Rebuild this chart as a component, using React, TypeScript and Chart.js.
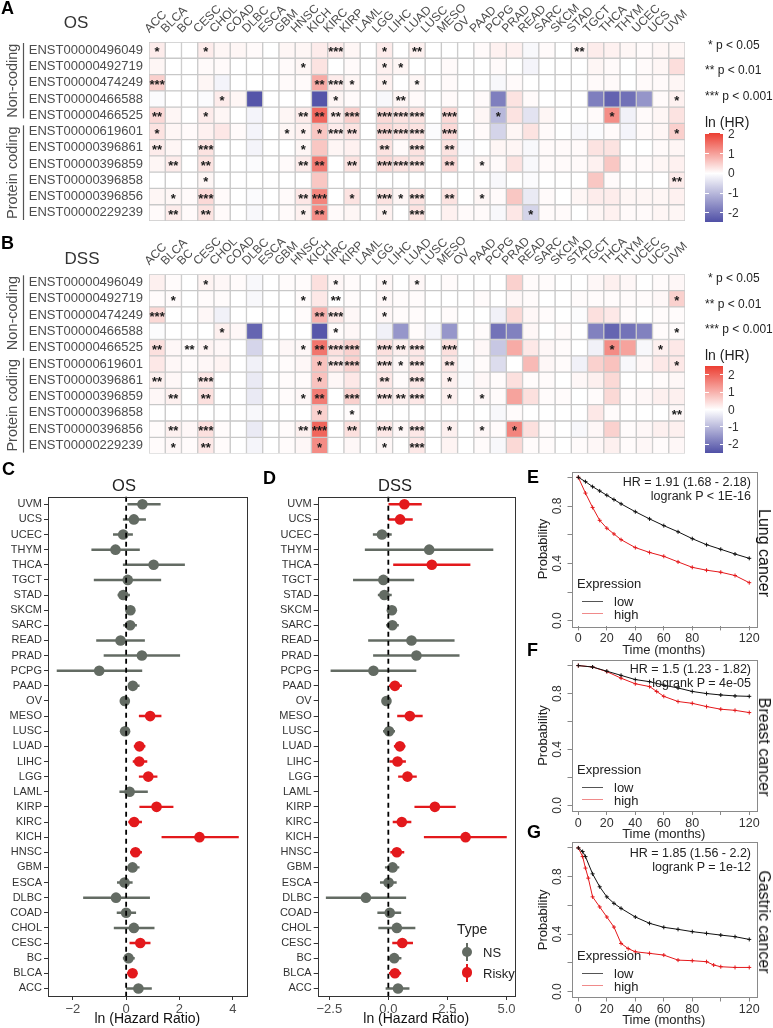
import React, { useEffect, useRef } from 'react';
import { Chart, registerables } from 'chart.js';
Chart.register(...registerables);

const FONT = "'Liberation Sans', Arial, Helvetica, sans-serif";
Chart.defaults.font.family = FONT;

// ---------------- DATA ----------------
const CANCERS = ['ACC','BLCA','BC','CESC','CHOL','COAD','DLBC','ESCA','GBM','HNSC','KICH','KIRC','KIRP','LAML','LGG','LIHC','LUAD','LUSC','MESO','OV','PAAD','PCPG','PRAD','READ','SARC','SKCM','STAD','TGCT','THCA','THYM','UCEC','UCS','UVM'];
const TRANSCRIPTS = ['ENST00000496049','ENST00000492719','ENST00000474249','ENST00000466588','ENST00000466525','ENST00000619601','ENST00000396861','ENST00000396859','ENST00000396858','ENST00000396856','ENST00000229239'];
const GROUPS = [{ name: 'Non-coding', first: 0, last: 4 }, { name: 'Protein coding', first: 5, last: 10 }];

// ln(HR) per transcript row, columns in CANCERS order
const OS_VALUES = [
  [0.2,0,0,0.2,0.1,0.1,0.05,0,0.1,0.1,0.2,0.2,0.1,0,0.2,0,0.15,0,0,0,0.05,0.15,0.15,-0.1,0.05,0,0.1,0.2,0.15,0.1,0.05,0.1,0.1],
  [0.1,0,0,0.05,0.05,0,0,0,0.05,0.1,0.3,0,0.05,0,0.15,0.1,0,0,0.05,0,0,0.05,0,-0.15,0,0,0,0.1,0.05,0,0.05,0.1,0.35],
  [0.5,0,0,0.1,-0.15,0,0,0,0.05,0.05,0.9,0.2,0.1,0,0.15,0,0.1,0,0.05,0,0,-0.1,0.05,0,0,0,0,0.05,0.05,0,0.05,0.05,0.1],
  [-0.05,0,0,-0.05,0.2,0.1,-2.4,0,0,0,-2.4,0.1,0.05,0,-0.1,0.1,0.05,0,0.05,0,0.05,-1.8,0.3,0.05,0,0,0,-1.8,-2.2,-2.0,-1.5,0.05,0.15],
  [0.4,0.1,0,0.2,0.1,0,-0.15,0,0.1,0.2,1.6,0.2,0.5,0,0.4,0.3,0.3,0,0.4,0,0.1,-1.0,0.3,-0.4,0.1,0,0,0.05,1.2,-0.2,0.05,0.1,0.3],
  [0.3,0.1,0.05,0.15,0.25,0.05,-0.15,0,0.1,0.15,0.6,0.2,0.3,0,0.4,0.3,0.3,-0.05,0.4,0,0.05,-0.6,0.1,0.3,0.05,0,-0.1,-0.05,0.05,-0.15,0.05,0.1,0.5],
  [0.2,0.1,0,0.3,0,0,-0.15,0,0,0.1,0.6,0.1,0.15,0,0.3,0.05,0.3,0,0.3,-0.05,0,0.1,0.1,-0.1,0.05,0.05,0.05,0.3,0.3,0,0,0.05,0.1],
  [0.1,0.2,0,0.3,0,0,-0.05,0,0.05,0.2,1.4,0,0.3,0,0.4,0.3,0.3,0,0.4,0,0.1,0.05,0.3,-0.1,0.05,0.05,0.05,0.15,0.6,0.05,0.05,0.1,0.15],
  [0,0,0,0.1,0,0,0,0,0,0,0.6,0,0,0,0,0,0,0,0,0,0,-0.1,0,-0.05,0,0,0,0.6,0.05,0,0,0,0.2],
  [0.1,0.1,0.05,0.4,0.05,0,-0.05,0,0.05,0.25,1.3,0,0.3,0,0.3,0.1,0.3,0,0.3,0,0.1,0.05,0.6,-0.3,0.05,0,0.1,0.2,0.2,0.1,0.1,0.1,0.15],
  [0.05,0.2,0.05,0.3,0.05,0,-0.1,0,0.05,0.15,1.2,0.05,0.1,0,0.15,0,0.3,0,0.15,0.05,0.05,-0.1,0.25,-0.6,0.05,0.05,0,0.1,0.15,0.05,0.05,0.1,0.1],
];
const OS_STARS = [
  [1,0,0,1,0,0,0,0,0,0,0,3,0,0,1,0,2,0,0,0,0,0,0,0,0,0,2,0,0,0,0,0,0],
  [0,0,0,0,0,0,0,0,0,1,0,0,0,0,1,1,0,0,0,0,0,0,0,0,0,0,0,0,0,0,0,0,0],
  [3,0,0,0,0,0,0,0,0,0,2,3,1,0,1,0,1,0,0,0,0,0,0,0,0,0,0,0,0,0,0,0,0],
  [0,0,0,0,1,0,0,0,0,0,0,1,0,0,0,2,0,0,0,0,0,0,0,0,0,0,0,0,0,0,0,0,1],
  [2,0,0,1,0,0,0,0,0,2,2,2,3,0,3,3,3,0,3,0,0,1,0,0,0,0,0,0,1,0,0,0,0],
  [1,0,0,0,0,0,0,0,1,1,1,3,2,0,3,3,3,0,3,0,0,0,0,0,0,0,0,0,0,0,0,0,1],
  [2,0,0,3,0,0,0,0,0,1,0,0,0,0,2,0,3,0,2,0,0,0,0,0,0,0,0,0,0,0,0,0,0],
  [0,2,0,2,0,0,0,0,0,2,2,0,2,0,3,3,3,0,2,0,1,0,0,0,0,0,0,0,0,0,0,0,0],
  [0,0,0,1,0,0,0,0,0,0,0,0,0,0,0,0,0,0,0,0,0,0,0,0,0,0,0,0,0,0,0,0,2],
  [0,1,0,3,0,0,0,0,0,2,3,0,1,0,3,1,3,0,2,0,1,0,0,0,0,0,0,0,0,0,0,0,0],
  [0,2,0,2,0,0,0,0,0,1,2,0,0,0,1,0,3,0,0,0,0,0,0,1,0,0,0,0,0,0,0,0,0],
];
const DSS_VALUES = [
  [0.2,0.05,0,0.15,0.1,0.05,-0.1,0,0.05,0.05,0.4,0.1,0.05,0,0.1,0,0.1,0,0.05,0,0,0,0.6,0.05,0.05,0,0,0.1,0.2,0.1,0,0.05,0.1],
  [0.05,0.05,0,0.05,0.05,0,-0.1,0,0,0.05,0.3,0,0.05,0,0.1,0.05,0.05,0,0,0,0.05,0,0.1,0.05,0,0,0.05,0.05,0.05,0.05,0.05,0.1,0.6],
  [0.5,0,0,0.1,-0.2,0,0,0,0,0.05,1.0,0.3,0.1,0,0.1,0.05,0.05,0,0.05,0,0,-0.2,0.5,0.1,0.05,0,-0.05,0.4,0.3,0.05,0,0.05,0.05],
  [-0.05,0,0,0,0.2,0.1,-2.2,0,0,0,-2.4,0.05,0.1,0,-0.2,-1.5,0.05,-0.15,-1.5,0,0.05,-2.0,-1.8,0.1,0,0.05,0,-1.8,-2.2,-2.0,-1.8,0.05,0.05],
  [0.4,0.1,0.05,0.15,0.1,0,-0.6,0,0.1,0.1,1.8,0.4,0.6,0,0.4,0.2,0.3,0,0.4,0,0.1,-0.8,1.1,0.3,0.1,0.05,0,-0.2,1.5,1.2,-0.1,0.2,0.3],
  [0.3,0.1,0.05,0.1,0.15,0,-0.2,0,0.05,0.1,0.8,0.3,0.6,0,0.3,0.1,0.3,0,0.3,-0.05,0.05,-0.5,0,0.9,0.1,0.05,-0.2,0.6,0.8,-0.1,0.1,0.3,0.3],
  [0.2,0.1,0,0.3,0,0,-0.3,0,0.05,0.05,0.8,0.1,0.3,0,0.3,0.05,0.3,0,0.2,-0.05,0.1,0.05,0.4,0.05,0.05,0,0.1,0.2,0.5,0,0,0.05,0.1],
  [0.1,0.2,0,0.4,0,0,-0.3,0,0.05,0.1,1.7,0,0.6,0,0.3,0.2,0.3,0,0.2,0,0.1,0.05,1.2,0.4,0.05,0.05,0,0.05,0.5,0.05,0.1,0.2,0.2],
  [0,0,0,0,0,0,-0.1,0,0,0,0.6,0,0.05,0,0,0,0,0,0,0,0,-0.1,0.05,0,0,0,0,0.3,0.05,0,0,0,0.1],
  [0.05,0.2,0.1,0.4,0.05,0,-0.3,0,0.05,0.2,2.0,0,0.4,0,0.3,0.1,0.3,0,0.2,0,0.1,0.05,1.6,0.4,0.05,0,-0.1,0.1,0.6,0.05,0.1,0.2,0.2],
  [0.05,0.1,0.05,0.3,0.05,0,-0.15,0,0.05,0.1,1.5,0,0.1,0,0.1,0,0.3,0,0.15,0,0.05,-0.1,0.5,0.05,0.05,0,0.05,0.1,0.2,0.05,0.1,0.05,0.1],
];
const DSS_STARS = [
  [0,0,0,1,0,0,0,0,0,0,0,1,0,0,1,0,1,0,0,0,0,0,0,0,0,0,0,0,0,0,0,0,0],
  [0,1,0,0,0,0,0,0,0,1,0,2,0,0,1,0,0,0,0,0,0,0,0,0,0,0,0,0,0,0,0,0,1],
  [3,0,0,0,0,0,0,0,0,0,2,3,0,0,1,0,0,0,0,0,0,0,0,0,0,0,0,0,0,0,0,0,0],
  [0,0,0,0,1,0,0,0,0,0,0,1,0,0,0,0,0,0,0,0,0,0,0,0,0,0,0,0,0,0,0,0,1],
  [2,0,2,1,0,0,0,0,0,1,2,3,3,0,3,2,3,0,3,0,0,0,0,0,0,0,0,0,1,0,0,1,0],
  [0,0,0,0,0,0,0,0,0,0,1,3,3,0,3,1,3,0,2,0,0,0,0,0,0,0,0,0,0,0,0,0,1],
  [2,0,0,3,0,0,0,0,0,0,1,0,0,0,2,0,3,0,1,0,0,0,0,0,0,0,0,0,0,0,0,0,0],
  [0,2,0,2,0,0,0,0,0,1,2,0,3,0,3,2,3,0,1,0,1,0,0,0,0,0,0,0,0,0,0,0,0],
  [0,0,0,0,0,0,0,0,0,0,1,0,1,0,0,0,0,0,0,0,0,0,0,0,0,0,0,0,0,0,0,0,2],
  [0,2,0,3,0,0,0,0,0,2,3,0,2,0,3,1,3,0,1,0,1,0,1,0,0,0,0,0,0,0,0,0,0],
  [0,1,0,2,0,0,0,0,0,0,1,0,0,0,1,0,3,0,0,0,0,0,0,0,0,0,0,0,0,0,0,0,0],
];
const LEGEND_TICKS = [2, 1, 0, -1, -2];
const P_LEGEND = ['* p < 0.05', '** p < 0.01', '*** p < 0.001'];

// Forest plots (CANCERS order)
const OS_HR = [0.46,0.24,0.09,0.53,0.29,0,-0.38,-0.06,0.24,0.35,2.75,0.30,1.14,0.13,0.83,0.49,0.50,-0.04,0.90,-0.05,0.25,-1.01,0.59,-0.21,0.15,0.16,-0.11,0.06,1.03,-0.40,-0.11,0.29,0.61];
const OS_LO = [0.01,0.05,-0.11,0.14,-0.45,-0.34,-1.6,-0.33,0.01,0.16,1.34,0.09,0.51,-0.24,0.49,0.26,0.30,-0.16,0.49,-0.18,0.08,-2.59,-0.83,-1.11,-0.10,0.04,-0.31,-1.2,-0.11,-1.29,-0.48,-0.11,0.06];
const OS_HI = [0.95,0.39,0.31,0.90,1.05,0.36,0.88,0.23,0.49,0.58,4.21,0.58,1.76,0.80,1.16,0.78,0.71,0.09,1.31,0.08,0.49,0.59,2.01,0.69,0.39,0.26,0.13,1.3,2.19,0.50,0.24,0.73,1.28];
const OS_RISKY = [0,1,0,1,0,0,0,0,0,1,1,1,1,0,1,1,1,0,1,0,0,0,0,0,0,0,0,0,0,0,0,0,0];
const DSS_HR = [0.41,0.28,0.25,0.59,0.36,0.06,-0.95,0.01,0.18,0.36,3.27,0.57,1.97,null,0.81,0.39,0.49,0.03,0.91,-0.08,0.28,-0.63,1.19,0.98,0.17,0.15,-0.17,-0.21,1.84,1.73,-0.27,0.50,0.68];
const DSS_LO = [-0.1,0.04,0.01,0.18,-0.41,-0.45,-2.63,-0.34,-0.13,0.10,1.52,0.20,1.12,null,0.43,0.06,0.25,-0.21,0.39,-0.21,0.04,-2.43,-0.63,-0.84,-0.08,0.04,-0.43,-1.48,0.22,-0.98,-0.64,0.01,0];
const DSS_HI = [0.88,0.53,0.54,1.03,1.13,0.53,0.74,0.34,0.45,0.66,5.0,0.96,2.84,null,1.19,0.73,0.71,0.27,1.44,0.06,0.56,1.17,3.0,2.79,0.43,0.28,0.13,1.08,3.46,4.43,0.13,1.02,1.4];
const DSS_RISKY = [0,1,0,1,0,0,0,0,0,1,1,1,1,0,1,1,1,0,1,0,1,0,0,0,0,0,0,0,1,0,0,1,1];
const C_TICKS = [-2, 0, 2, 4];
const C_TICK_LABELS = ['\u22122', '0', '2', '4'];
const D_TICKS = [-2.5, 0, 2.5, 5];
const D_TICK_LABELS = ['\u22122.5', '0.0', '2.5', '5.0'];

// Kaplan-Meier curves
const E_LOW_T = [0,5,10,15,20,25,30,40,50,60,70,80,90,100,110,120];
const E_LOW_P = [1.0,0.97,0.935,0.905,0.875,0.845,0.815,0.76,0.71,0.663,0.62,0.572,0.53,0.498,0.465,0.435];
const E_HIGH_T = [0,5,10,15,20,25,30,40,50,60,70,80,90,100,110,120];
const E_HIGH_P = [1.0,0.89,0.79,0.70,0.645,0.605,0.565,0.51,0.476,0.449,0.41,0.372,0.352,0.338,0.315,0.265];
const F_LOW_T = [0,10,20,30,40,50,60,70,80,90,100,110,120];
const F_LOW_P = [1.0,0.99,0.96,0.93,0.90,0.885,0.86,0.84,0.815,0.80,0.79,0.783,0.78];
const F_HIGH_T = [0,10,20,30,40,50,55,60,70,80,90,100,110,120];
const F_HIGH_P = [1.0,0.99,0.957,0.91,0.87,0.85,0.815,0.78,0.743,0.73,0.707,0.688,0.68,0.664];
const G_LOW_T = [0,3,5,10,15,20,25,30,40,50,60,70,80,90,100,110,120];
const G_LOW_P = [1.0,0.975,0.94,0.82,0.73,0.66,0.615,0.58,0.52,0.476,0.448,0.434,0.418,0.406,0.394,0.383,0.364];
const G_HIGH_T = [0,3,5,7,10,15,20,25,30,35,40,50,60,70,80,90,95,100,110,120];
const G_HIGH_P = [1.0,0.94,0.86,0.79,0.66,0.59,0.52,0.45,0.336,0.30,0.278,0.267,0.255,0.22,0.216,0.209,0.186,0.174,0.169,0.169];
const KM_X_TICKS = [0,20,40,60,80,100,120];
const KM_X_LABELS = ['0','20','40','60','80','','120'];
const KM_Y_TICKS = [0,0.2,0.4,0.6,0.8,1.0];
const KM_Y_LABELS = ['0.0','','0.4','','0.8',''];

// ---------------- STYLE HELPERS ----------------
const RED = '#E3191C';
const GRAY = '#636B63';
const POS_RGB = [236, 62, 50];
const NEG_RGB = [80, 80, 166];

function heat(v: number, posMax: number, negMax: number) {
  const c = v >= 0 ? POS_RGB : NEG_RGB;
  const t = Math.min(1, Math.abs(v) / (v >= 0 ? posMax : negMax));
  const m = (k: number) => Math.round(255 + (c[k] - 255) * t);
  return `rgb(${m(0)},${m(1)},${m(2)})`;
}

const starPlugin = {
  id: 'stars',
  afterDatasetsDraw(chart: any, _a: any, opts: any) {
    const ctx = chart.ctx;
    ctx.save();
    ctx.font = `bold 13px ${FONT}`;
    ctx.fillStyle = '#1a1a1a';
    ctx.textAlign = 'center';
    ctx.textBaseline = 'middle';
    chart.data.datasets.forEach((_ds: any, j: number) => {
      const meta = chart.getDatasetMeta(j);
      meta.data.forEach((el: any, i: number) => {
        const n = opts.stars[i][j];
        if (n) {
          const p = el.getCenterPoint();
          ctx.fillText('*'.repeat(n), p.x, p.y + 2.5);
        }
      });
    });
    ctx.restore();
  },
};

const groupPlugin = {
  id: 'groups',
  afterDraw(chart: any) {
    const y = chart.scales.y;
    const ctx = chart.ctx;
    const h = y.getPixelForValue(1) - y.getPixelForValue(0);
    ctx.save();
    GROUPS.forEach((g, k) => {
      const top = y.getPixelForValue(g.first) - h / 2 + (k === 0 ? 1 : 2);
      const bot = y.getPixelForValue(g.last) + h / 2 - (k === 0 ? 5 : 1);
      ctx.strokeStyle = '#555';
      ctx.lineWidth = 1.2;
      ctx.beginPath();
      ctx.moveTo(23.5, top);
      ctx.lineTo(23.5, bot);
      ctx.stroke();
      ctx.save();
      ctx.translate(13, (top + bot) / 2);
      ctx.rotate(-Math.PI / 2);
      ctx.font = `14.5px ${FONT}`;
      ctx.fillStyle = '#4D4D4D';
      ctx.textAlign = 'center';
      ctx.textBaseline = 'middle';
      ctx.fillText(g.name, 0, 0);
      ctx.restore();
    });
    ctx.restore();
  },
};

function boxPlugin(color: string) {
  return {
    id: 'box',
    afterDraw(chart: any) {
      const a = chart.chartArea;
      const ctx = chart.ctx;
      ctx.save();
      ctx.strokeStyle = color;
      ctx.lineWidth = 1;
      ctx.strokeRect(Math.round(a.left) + 0.5, Math.round(a.top) + 0.5, Math.round(a.right - a.left), Math.round(a.bottom - a.top));
      ctx.restore();
    },
  };
}

const zeroLinePlugin = {
  id: 'zeroLine',
  afterDatasetsDraw(chart: any) {
    const x = chart.scales.x.getPixelForValue(0);
    const a = chart.chartArea;
    const ctx = chart.ctx;
    ctx.save();
    ctx.strokeStyle = '#000';
    ctx.lineWidth = 1.8;
    ctx.setLineDash([5, 4]);
    ctx.beginPath();
    ctx.moveTo(x, a.top);
    ctx.lineTo(x, a.bottom);
    ctx.stroke();
    ctx.restore();
  },
};

const kmYLabelPlugin = {
  id: 'kmY',
  afterDraw(chart: any) {
    const y = chart.scales.y;
    const ctx = chart.ctx;
    ctx.save();
    ctx.font = `12px ${FONT}`;
    ctx.fillStyle = '#333';
    ctx.textAlign = 'center';
    ctx.textBaseline = 'middle';
    KM_Y_TICKS.forEach((v, i) => {
      if (!KM_Y_LABELS[i]) return;
      ctx.save();
      ctx.translate(chart.chartArea.left - 14, y.getPixelForValue(v));
      ctx.rotate(-Math.PI / 2);
      ctx.fillText(KM_Y_LABELS[i], 0, 0);
      ctx.restore();
    });
    ctx.restore();
  },
};

// ---------------- CHART CONFIGS ----------------
function makeHeatmap(values: number[][], stars: number[][], posMax: number, negMax: number, topH: number, padBottom: number) {
  const datasets = CANCERS.map((c, j) => ({
    label: c,
    data: TRANSCRIPTS.map(() => 1),
    backgroundColor: values.map((r) => heat(r[j], posMax, negMax)),
    borderColor: '#C9C9C9',
    borderWidth: 1,
    borderSkipped: false,
    barPercentage: 1,
    categoryPercentage: 1,
  }));
  return {
    type: 'bar',
    data: { labels: TRANSCRIPTS, datasets },
    options: {
      indexAxis: 'y',
      responsive: false,
      animation: false,
      events: [],
      layout: { padding: { left: 0, right: 35, top: 0, bottom: padBottom } },
      plugins: { legend: { display: false }, tooltip: { enabled: false }, stars: { stars } },
      scales: {
        x: { type: 'linear', stacked: true, min: 0, max: 33, display: false },
        x2: {
          type: 'category', axis: 'x', position: 'top', labels: CANCERS, offset: true,
          grid: { display: false, drawTicks: false }, border: { display: false },
          ticks: { minRotation: 45, maxRotation: 45, autoSkip: false, padding: 6, color: '#4D4D4D', font: { size: 12 } },
          afterFit: (s: any) => { s.height = topH; s.paddingLeft = 0; s.paddingRight = 0; },
        },
        y: {
          type: 'category', stacked: true, offset: true,
          grid: { display: false, drawTicks: false }, border: { display: false },
          ticks: { autoSkip: false, padding: 6, color: '#4D4D4D', font: { size: 13 } },
          afterFit: (s: any) => { s.width = 149; s.paddingTop = 0; s.paddingBottom = 0; },
        },
      },
    },
    plugins: [starPlugin, groupPlugin],
  };
}

function makeForest(hr: (number|null)[], lo: (number|null)[], hi: (number|null)[], risky: number[], xmin: number, xmax: number, ticks: number[], tickLabels: string[], yW: number, padRight: number) {
  const colors = risky.map((r) => (r ? RED : GRAY));
  return {
    type: 'bar',
    data: {
      labels: CANCERS,
      datasets: [
        { type: 'bar', indexAxis: 'y', order: 2, data: lo.map((l, i) => (l == null ? null : [l, hi[i]])), backgroundColor: colors, borderWidth: 0, barThickness: 1.8 },
        { type: 'line', indexAxis: 'y', order: 1, data: hr, showLine: false, pointRadius: 5.3, pointBackgroundColor: colors, pointBorderWidth: 0, pointBorderColor: colors },
      ],
    },
    options: {
      indexAxis: 'y',
      responsive: false,
      animation: false,
      events: [],
      layout: { padding: { left: 0, right: padRight, top: 41.7, bottom: 0 } },
      plugins: { legend: { display: false }, tooltip: { enabled: false } },
      scales: {
        x: {
          type: 'linear', min: xmin, max: xmax,
          afterBuildTicks: (s: any) => { s.ticks = ticks.map((v) => ({ value: v })); },
          ticks: { autoSkip: false, maxRotation: 0, padding: 2, color: '#4D4D4D', font: { size: 13 }, callback: (_v: any, i: number) => tickLabels[i] },
          grid: { drawOnChartArea: false, drawTicks: true, tickLength: 4, color: '#333' },
          border: { display: false },
          title: { display: true, text: 'ln (Hazard Ratio)', color: '#111', font: { size: 14 }, padding: { top: 0, bottom: 0 } },
          afterFit: (s: any) => { s.height = 32; s.paddingLeft = 0; s.paddingRight = 0; },
        },
        y: {
          type: 'category', reverse: true, offset: true,
          grid: { offset: false, drawOnChartArea: false, drawTicks: true, tickLength: 4, color: '#333' },
          border: { display: false },
          ticks: { autoSkip: false, padding: 2, color: '#333', font: { size: 11 } },
          afterFit: (s: any) => { s.width = yW; s.paddingTop = 0; s.paddingBottom = 0; },
        },
      },
    },
    plugins: [zeroLinePlugin, boxPlugin('#333')],
  };
}

function makeKM(lowT: number[], lowP: number[], highT: number[], highP: number[], padTop: number, xH: number) {
  const ds = (t: number[], p: number[], col: string) => ({
    data: t.map((x, i) => ({ x, y: p[i] })),
    borderColor: col, backgroundColor: col, borderWidth: 1, tension: 0,
    pointStyle: 'cross', pointRadius: 2, pointBorderWidth: 1, pointBorderColor: col,
  });
  return {
    type: 'line',
    data: { datasets: [ds(lowT, lowP, '#111'), ds(highT, highP, '#E4191C')] },
    options: {
      responsive: false,
      animation: false,
      events: [],
      layout: { padding: { left: 0, right: 16.9, top: padTop, bottom: 0 } },
      plugins: { legend: { display: false }, tooltip: { enabled: false } },
      scales: {
        x: {
          type: 'linear', min: -4.8, max: 124.8,
          afterBuildTicks: (s: any) => { s.ticks = KM_X_TICKS.map((v) => ({ value: v })); },
          ticks: { autoSkip: false, maxRotation: 0, padding: 1, color: '#333', font: { size: 12.5 }, callback: (_v: any, i: number) => KM_X_LABELS[i] },
          grid: { drawOnChartArea: false, tickLength: 4, color: '#888' },
          border: { display: false },
          title: { display: true, text: 'Time (months)', color: '#222', font: { size: 13 }, padding: { top: 0, bottom: 0 } },
          afterFit: (s: any) => { s.height = xH; s.paddingLeft = 0; s.paddingRight = 0; },
        },
        y: {
          type: 'linear', min: -0.04, max: 1.04,
          afterBuildTicks: (s: any) => { s.ticks = KM_Y_TICKS.map((v) => ({ value: v })); },
          ticks: { display: false },
          grid: { drawOnChartArea: false, tickLength: 4, color: '#888' },
          border: { display: false },
          title: { display: true, text: 'Probability', color: '#222', font: { size: 13 }, padding: { top: 18, bottom: 0 } },
          afterFit: (s: any) => { s.width = 53.5; s.paddingTop = 0; s.paddingBottom = 0; },
        },
      },
    },
    plugins: [boxPlugin('#8A8A8A'), kmYLabelPlugin],
  };
}

// ---------------- COMPONENTS ----------------
function ChartCanvas({ left, top, width, height, make }: any) {
  const ref = useRef<HTMLCanvasElement>(null);
  useEffect(() => {
    const chart = new Chart(ref.current as HTMLCanvasElement, make());
    return () => chart.destroy();
  }, []);
  return <canvas ref={ref} width={width} height={height} style={{ position: 'absolute', left, top, width, height }} />;
}

function Txt({ x, y, s, size = 13, align = 'left', bold = false, color = '#222', rot = 0 }: any) {
  const tx = align === 'left' ? '0' : align === 'center' ? '-50%' : '-100%';
  return (
    <div style={{ position: 'absolute', left: x, top: y, transform: `translate(${tx}, -50%)${rot ? ` rotate(${rot}deg)` : ''}`, fontFamily: FONT, fontSize: size, fontWeight: bold ? 700 : 400, color, whiteSpace: 'nowrap', lineHeight: 1 }}>
      {s}
    </div>
  );
}

function ColorLegend({ x, pYs, lnY, barTop, barH, posMax, negMax }: any) {
  const pct = (posMax / (posMax + negMax)) * 100;
  const yOf = (v: number) => barTop + ((posMax - v) / (posMax + negMax)) * barH;
  return (
    <>
      {P_LEGEND.map((t, i) => <Txt key={t} x={x + (i === 0 ? 3 : 0)} y={pYs[i]} s={t} size={12} />)}
      <Txt x={x} y={lnY} s="ln (HR)" size={14} />
      <div style={{ position: 'absolute', left: x, top: barTop, width: 18, height: barH, background: `linear-gradient(to bottom, ${heat(posMax, posMax, negMax)} 0%, #ffffff ${pct}%, ${heat(-negMax, posMax, negMax)} 100%)` }} />
      {LEGEND_TICKS.map((v) => (
        <React.Fragment key={v}>
          <div style={{ position: 'absolute', left: x, top: yOf(v) - 0.5, width: 3.5, height: 1, background: '#fff' }} />
          <div style={{ position: 'absolute', left: x + 14.5, top: yOf(v) - 0.5, width: 3.5, height: 1, background: '#fff' }} />
          <Txt x={x + 23} y={yOf(v)} s={String(v)} size={12} color="#333" />
        </React.Fragment>
      ))}
    </>
  );
}

function KMExtras({ hrY, hr, p, exY, name, nameY }: any) {
  return (
    <>
      <Txt x={751} y={hrY} s={hr} size={12.5} align="right" />
      <Txt x={751} y={hrY + 13.5} s={p} size={12.5} align="right" />
      <Txt x={577} y={exY} s="Expression" size={13} />
      <div style={{ position: 'absolute', left: 582, top: exY + 17.5, width: 21, height: 1, background: '#555' }} />
      <div style={{ position: 'absolute', left: 582, top: exY + 30, width: 21, height: 1, background: '#F08A8A' }} />
      <Txt x={614} y={exY + 18} s="low" size={13} />
      <Txt x={614} y={exY + 30.5} s="high" size={13} />
      <Txt x={764} y={nameY} s={name} size={16} align="center" rot={90} color="#111" />
    </>
  );
}

export default function App() {
  return (
    <div style={{ position: 'absolute', left: 0, top: 0, width: 773, height: 1028, background: '#fff', overflow: 'hidden' }}>
      {/* Panel A */}
      <ChartCanvas left={0} top={0} width={720} height={228} make={() => makeHeatmap(OS_VALUES, OS_STARS, 2.05, 2.47, 42, 7)} />
      <Txt x={1} y={8} s="A" size={18} bold color="#000" />
      <Txt x={76} y={22} s="OS" size={17} align="center" color="#333" />
      <ColorLegend x={705} pYs={[45, 70, 96]} lnY={122} barTop={133} barH={89} posMax={2.05} negMax={2.47} />

      {/* Panel B */}
      <ChartCanvas left={0} top={230} width={720} height={228} make={() => makeHeatmap(DSS_VALUES, DSS_STARS, 2.52, 2.5, 44.3, 4.4)} />
      <Txt x={1} y={243} s="B" size={18} bold color="#000" />
      <Txt x={82} y={258} s="DSS" size={17} align="center" color="#333" />
      <ColorLegend x={705} pYs={[278, 304, 329]} lnY={355} barTop={365.7} barH={87.3} posMax={2.52} negMax={2.5} />

      {/* Panel C */}
      <ChartCanvas left={0} top={455} width={252} height={573} make={() => makeForest(OS_HR, OS_LO, OS_HI, OS_RISKY, -2.93, 4.52, C_TICKS, C_TICK_LABELS, 48, 5)} />
      <Txt x={2} y={469} s="C" size={18} bold color="#000" />
      <Txt x={124} y={485} s="OS" size={16.5} align="center" color="#222" />

      {/* Panel D */}
      <ChartCanvas left={250} top={455} width={270} height={573} make={() => makeForest(DSS_HR, DSS_LO, DSS_HI, DSS_RISKY, -2.99, 5.35, D_TICKS, D_TICK_LABELS, 67.7, 3.3)} />
      <Txt x={263} y={478} s="D" size={18} bold color="#000" />
      <Txt x={395} y={485} s="DSS" size={16.5} align="center" color="#222" />
      <Txt x={457} y={929} s="Type" size={14} />
      <div style={{ position: 'absolute', left: 466, top: 943, width: 2, height: 18, background: GRAY }} />
      <div style={{ position: 'absolute', left: 461.7, top: 946.7, width: 10.6, height: 10.6, borderRadius: '50%', background: GRAY }} />
      <Txt x={483} y={952} s="NS" size={13} />
      <div style={{ position: 'absolute', left: 466, top: 963.7, width: 2, height: 18, background: RED }} />
      <div style={{ position: 'absolute', left: 461.7, top: 967.4, width: 10.6, height: 10.6, borderRadius: '50%', background: RED }} />
      <Txt x={483} y={972.7} s="Risky" size={13} />

      {/* Panel E */}
      <ChartCanvas left={518} top={455} width={255} height={203} make={() => makeKM(E_LOW_T, E_LOW_P, E_HIGH_T, E_HIGH_P, 16.6, 31.6)} />
      <Txt x={527} y={477} s="E" size={18} bold color="#000" />
      <KMExtras hrY={482} hr="HR = 1.91 (1.68 - 2.18)" p="logrank P < 1E-16" exY={583} name="Lung cancer" nameY={553} />

      {/* Panel F */}
      <ChartCanvas left={518} top={644} width={255} height={198} make={() => makeKM(F_LOW_T, F_LOW_P, F_HIGH_T, F_HIGH_P, 16, 31)} />
      <Txt x={527} y={650} s="F" size={18} bold color="#000" />
      <KMExtras hrY={669.3} hr="HR = 1.5 (1.23 - 1.82)" p="logrank P = 4e-05" exY={769.3} name="Breast cancer" nameY={747} />

      {/* Panel G */}
      <ChartCanvas left={518} top={825} width={255} height={203} make={() => makeKM(G_LOW_T, G_LOW_P, G_HIGH_T, G_HIGH_P, 17.2, 30.5)} />
      <Txt x={527} y={832} s="G" size={18} bold color="#000" />
      <KMExtras hrY={853.3} hr="HR = 1.85 (1.56 - 2.2)" p="logrank P = 1e-12" exY={955} name="Gastric cancer" nameY={922} />
    </div>
  );
}
